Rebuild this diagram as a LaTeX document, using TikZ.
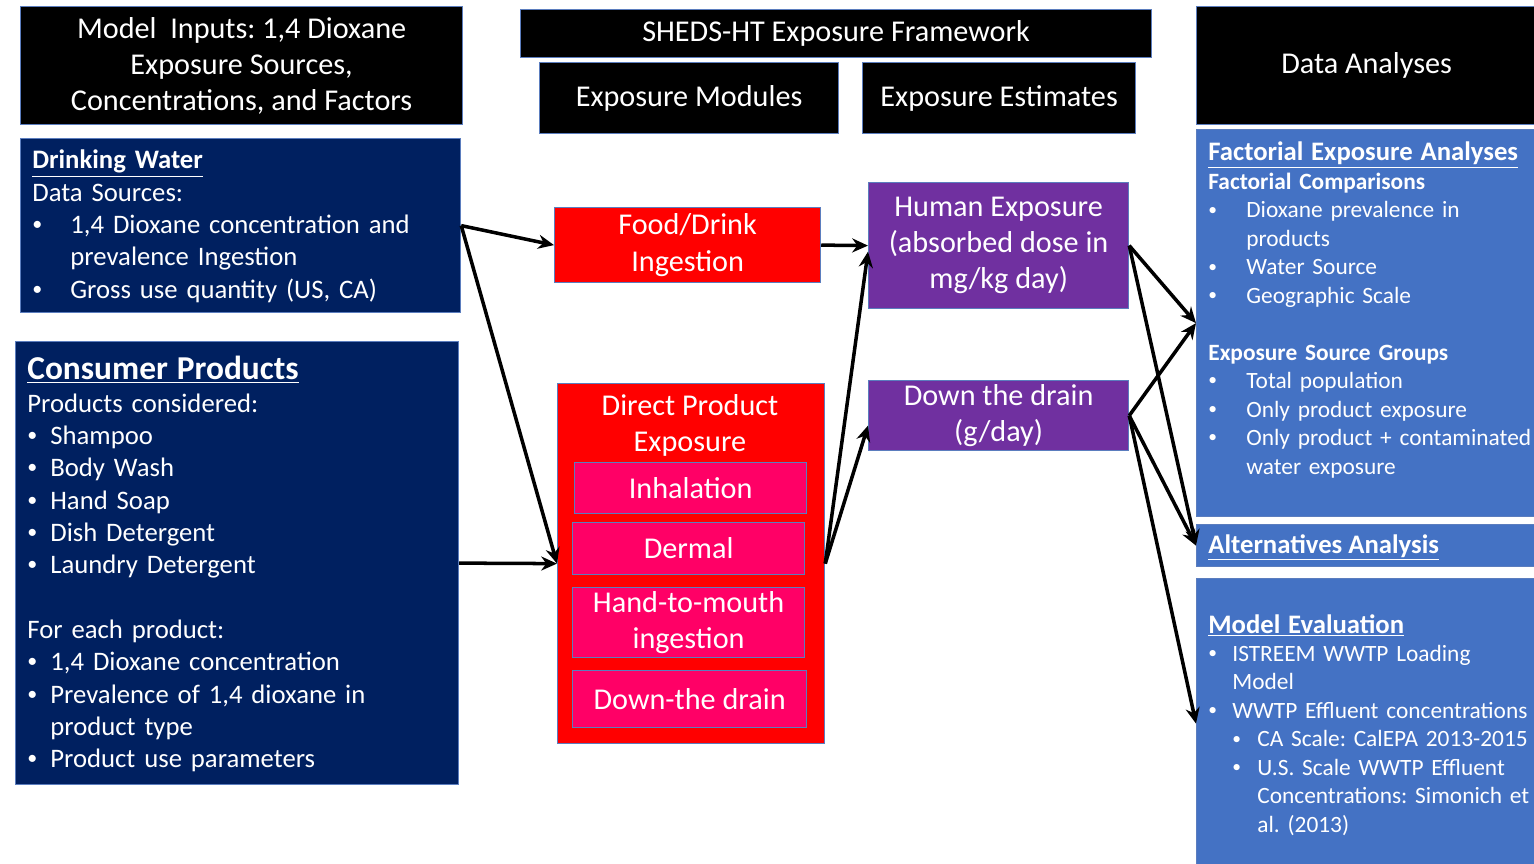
\documentclass[tikz,border=0pt]{standalone}
\usepackage{fontspec}
\setmainfont{Carlito}
\usepackage{graphicx}
\usepackage{tikz}
\usetikzlibrary{arrows.meta, positioning}
\definecolor{navy}{HTML}{002060}
\definecolor{pptblue}{HTML}{4472C4}
\definecolor{pptpurple}{HTML}{7030A0}
\definecolor{pptpink}{HTML}{FF0066}
\definecolor{pptred}{HTML}{FF0000}
\definecolor{rim}{HTML}{5B7DBE}
\newlength{\pxu}\setlength{\pxu}{0.02cm}
\setlength{\parindent}{0pt}
\frenchspacing
\newcommand{\bdot}{\raisebox{0.12em}{\scalebox{0.75}{\textbullet}}}
\newcommand{\bul}[3]{\par\noindent\hangindent=#2\hangafter=1\hbox to #2{\hspace*{#1}\bdot\hfil}#3}
\tikzstyle{box} = [draw=rim, line width=0.7pt, anchor=north west, inner sep=0pt, text=white]
\tikzstyle{header} = [box, fill=black, align=center, font=\fontsize{17.2}{20.5}\selectfont]
\tikzstyle{source} = [box, fill=navy]
\tikzstyle{module} = [box, fill=pptred, align=center, font=\fontsize{17.2}{20.5}\selectfont]
\tikzstyle{route} = [box, fill=pptpink, align=center, font=\fontsize{17.2}{20.5}\selectfont]
\tikzstyle{estimate} = [box, fill=pptpurple, align=center, font=\fontsize{17.2}{20.5}\selectfont]
\tikzstyle{analysis} = [box, fill=pptblue]
\tikzstyle{txt} = [text=white, inner sep=0pt, anchor=base west, align=left]
\tikzstyle{arrow} = [draw, -{Stealth[length=9pt, width=8pt]}, line width=2pt]
\tikzset{wh/.style 2 args={minimum width=#1*0.02cm, minimum height=#2*0.02cm}}

\begin{document}
\begin{tikzpicture}[x=0.02cm, y=-0.02cm]
	\useasboundingbox (0,0) rectangle (1534,864);

	\node[header, wh={442}{118}] (inputs) at (20,6) {Model\ \ Inputs: 1,4 Dioxane\\Exposure Sources,\\Concentrations, and Factors};
	\node[header, wh={631}{48}] (sheds) at (520,9) {SHEDS-HT Exposure Framework};
	\node[header, wh={299}{71}] (modules) at (539,62) {Exposure Modules};
	\node[header, wh={273}{71}] (estimates) at (862,62) {Exposure Estimates};
	\node[header, wh={340}{118}] (analyses) at (1196,6) {Data Analyses};

	\node[source, wh={440}{174}] (dw) at (20,138) {};
	\node[txt, font=\fontsize{15.2}{18.4}\selectfont, text width=9cm] (dwtxt) at ([shift={(12,31)}]dw.north west) {\textbf{\underline{Drinking Water}}\par Data Sources:\bul{0pt}{38\pxu}{1,4 Dioxane concentration and\newline prevalence Ingestion}\bul{0pt}{38\pxu}{Gross use quantity (US, CA)}\par};

	\node[source, wh={443}{443}] (cp) at (15,341) {};
	\node[txt, font=\fontsize{15.2}{18.4}\selectfont, text width=9cm] (cptxt) at ([shift={(12,39)}]cp.north west) {{\fontsize{19}{23}\selectfont\textbf{\underline{Consumer Products}}}\par Products considered:\bul{0pt}{23\pxu}{Shampoo}\bul{0pt}{23\pxu}{Body Wash}\bul{0pt}{23\pxu}{Hand Soap}\bul{0pt}{23\pxu}{Dish Detergent}\bul{0pt}{23\pxu}{Laundry Detergent}\par\vspace{18.4pt}For each product:\bul{0pt}{23\pxu}{1,4 Dioxane concentration}\bul{0pt}{23\pxu}{Prevalence of 1,4 dioxane in\newline product type}\bul{0pt}{23\pxu}{Product use parameters}\par};

	\node[module, wh={266}{75}] (fd) at (554,207) {Food/Drink\\Ingestion};
	\node[module, wh={267}{360}] (dp) at (557,383) {};
	\node[text=white, align=center, font=\fontsize{17.2}{20.5}\selectfont] (dptitle) at (690,425) {Direct Product\\Exposure};
	\node[route, wh={232}{51}] (inh) at (574,462) {Inhalation};
	\node[route, wh={232}{52}] (der) at (572,522) {Dermal};
	\node[route, wh={232}{70}] (htm) at (572,587) {Hand-to-mouth\\ingestion};
	\node[route, wh={234}{57}] (dtd) at (572,670) {Down-the drain};

	\node[estimate, wh={260}{126}] (he) at (868,182) {Human Exposure\\(absorbed dose in\\mg/kg day)};
	\node[estimate, wh={260}{70}] (dd) at (868,380) {Down the drain\\(g/day)};

	\node[analysis, wh={340}{387}] (fa) at (1196,129) {};
	\node[txt, font=\fontsize{13.3}{16.2}\selectfont, text width=7cm] (fatxt) at ([shift={(12,32)}]fa.north west) {{\fontsize{15.2}{18.4}\selectfont\textbf{\underline{Factorial Exposure Analyses}}}\par\textbf{Factorial Comparisons}\bul{0pt}{38\pxu}{Dioxane prevalence in\newline products}\bul{0pt}{38\pxu}{Water Source}\bul{0pt}{38\pxu}{Geographic Scale}\par\vspace{16.2pt}\textbf{Exposure Source Groups}\bul{0pt}{38\pxu}{Total population}\bul{0pt}{38\pxu}{Only product exposure}\bul{0pt}{38\pxu}{Only product + contaminated\newline water exposure}\par};
	\node[analysis, wh={340}{42}] (alt) at (1196,524) {};
	\node[txt, font=\fontsize{15.2}{18.4}\selectfont] (alttxt) at ([shift={(12,29)}]alt.north west) {\textbf{\underline{Alternatives Analysis}}};
	\node[analysis, wh={340}{290}] (me) at (1196,578) {};
	\node[txt, font=\fontsize{13.3}{16.2}\selectfont, text width=7cm] (metxt) at ([shift={(12,55)}]me.north west) {{\fontsize{15.2}{18.4}\selectfont\textbf{\underline{Model Evaluation}}}\bul{0pt}{24\pxu}{ISTREEM WWTP Loading\newline Model}\bul{0pt}{24\pxu}{WWTP Effluent concentrations}\bul{24\pxu}{49\pxu}{CA Scale: CalEPA 2013-2015}\bul{24\pxu}{49\pxu}{U.S. Scale WWTP Effluent\newline Concentrations: Simonich et\newline al. (2013)}\par};

	\draw[arrow] (dw.east) -- (fd.west);
	\draw[arrow] (dw.east) -- (dp.west);
	\draw[arrow] (cp.east) -- (dp.west);
	\draw[arrow] (fd.east) -- (he.west);
	\draw[arrow] (dp.east) -- ([shift={(0,6)}]he.west);
	\draw[arrow] (dp.east) -- ([shift={(0,10)}]dd.west);
	\draw[arrow] (he.east) -- (fa.west);
	\draw[arrow] (he.east) -- (alt.west);
	\draw[arrow] (dd.east) -- (fa.west);
	\draw[arrow] (dd.east) -- (alt.west);
	\draw[arrow] (dd.east) -- (me.west);
\end{tikzpicture}
\end{document}
